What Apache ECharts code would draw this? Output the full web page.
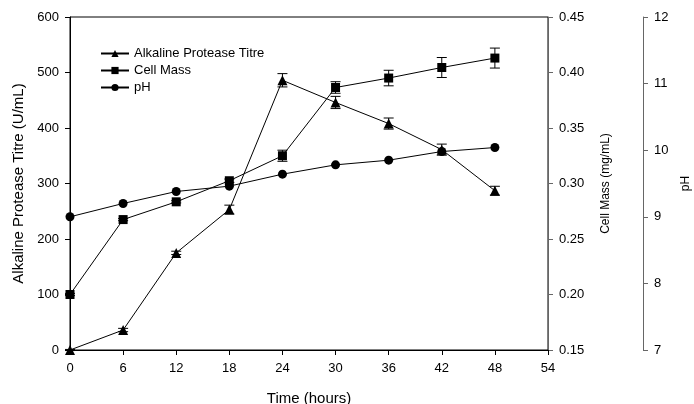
<!DOCTYPE html>
<html><head><meta charset="utf-8">
<script src="https://cdn.jsdelivr.net/npm/echarts@6/dist/echarts.min.js"></script>
<style>html,body{margin:0;padding:0;background:#fff}#c{width:694px;height:404px}</style>
</head><body><div id="c"></div>
<script>
const hours = [0, 6, 12, 18, 24, 30, 36, 42, 48];
const protease = [0, 36, 175, 253, 486, 446, 408, 361, 287];
const proteaseErr = [1, 3, 3, 8, 12, 11, 10, 10, 8];
const cellMass = [0.200, 0.2675, 0.2835, 0.3025, 0.325, 0.3865, 0.395, 0.4045, 0.413];
const cellMassErr = [0.001, 0.001, 0.001, 0.0015, 0.005, 0.0052, 0.007, 0.009, 0.009];
const pH = [9.0, 9.2, 9.38, 9.46, 9.64, 9.78, 9.85, 9.98, 10.04];
const xTicks = [0, 54, 6];

const font = 'Liberation Sans, Arial, sans-serif';
const chart = echarts.init(document.getElementById('c'));

function errSeries(vals, errs, yIdx) {
  return {
    type: 'custom', yAxisIndex: yIdx, z: 3, silent: true,
    data: hours.map((h, i) => [h, vals[i] - errs[i], vals[i] + errs[i]]),
    renderItem: function (params, api) {
      const x = api.value(0);
      const lo = api.coord([x, api.value(1)]);
      const hi = api.coord([x, api.value(2)]);
      const w = 5;
      const st = { stroke: '#000', lineWidth: 1 };
      return { type: 'group', children: [
        { type: 'line', shape: { x1: lo[0], y1: lo[1], x2: hi[0], y2: hi[1] }, style: st },
        { type: 'line', shape: { x1: lo[0] - w, y1: lo[1], x2: lo[0] + w, y2: lo[1] }, style: st },
        { type: 'line', shape: { x1: hi[0] - w, y1: hi[1], x2: hi[0] + w, y2: hi[1] }, style: st }
      ]};
    }
  };
}

const lineStyle = { color: '#000', width: 1 };
const axisLabel = { color: '#000', fontSize: 13, fontFamily: font };

chart.setOption({
  animation: false,
  grid: { left: 70, right: 146, top: 17, bottom: 54, show: true, borderColor: '#000', borderWidth: 1,
          outerBoundsMode: 'none', containLabel: false },
  legend: {
    data: ['Alkaline Protease Titre', 'Cell Mass', 'pH'],
    orient: 'vertical', left: 95, top: 42, itemWidth: 28, itemHeight: 9, itemGap: 4,
    textStyle: { fontSize: 13, fontFamily: font, color: '#000' }
  },
  xAxis: {
    type: 'value', min: xTicks[0], max: xTicks[1], interval: xTicks[2],
    name: 'Time (hours)', nameLocation: 'middle', nameGap: 41,
    nameTextStyle: { fontSize: 15, fontFamily: font, color: '#000' },
    axisLine: { lineStyle: { color: '#000' } },
    axisTick: { inside: false, length: 5, lineStyle: { color: '#000' } },
    axisLabel: Object.assign({ margin: 12 }, axisLabel),
    splitLine: { show: false }
  },
  yAxis: [
    { type: 'value', min: 0, max: 600, interval: 100, position: 'left',
      name: 'Alkaline Protease Titre (U/mL)', nameLocation: 'middle', nameGap: 44, nameRotate: 90,
      nameTextStyle: { fontSize: 15, fontFamily: font, color: '#000' },
      axisLine: { show: true, lineStyle: { color: '#000' } },
      axisTick: { show: true, length: 5, lineStyle: { color: '#000' } },
      axisLabel: Object.assign({ margin: 11 }, axisLabel), splitLine: { show: false } },
    { type: 'value', min: 0.15, max: 0.45, interval: 0.05, position: 'right',
      name: 'Cell Mass (mg/mL)', nameLocation: 'middle', nameGap: 52, nameRotate: 90,
      nameTextStyle: { fontSize: 12, fontFamily: font, color: '#000' },
      axisLine: { show: true, lineStyle: { color: '#666' } },
      axisTick: { show: true, length: 5, lineStyle: { color: '#666' } },
      axisLabel: Object.assign({ margin: 11, formatter: v => v.toFixed(2) }, axisLabel), splitLine: { show: false } },
    { type: 'value', min: 7, max: 12, interval: 1, position: 'right', offset: 95,
      name: 'pH', nameLocation: 'middle', nameGap: 36, nameRotate: 90,
      nameTextStyle: { fontSize: 12, fontFamily: font, color: '#000' },
      axisLine: { show: true, lineStyle: { color: '#666' } },
      axisTick: { show: true, length: 5, lineStyle: { color: '#666' } },
      axisLabel: Object.assign({ margin: 11 }, axisLabel), splitLine: { show: false } }
  ],
  series: [
    errSeries(protease, proteaseErr, 0),
    errSeries(cellMass, cellMassErr, 1),
    { name: 'Alkaline Protease Titre', type: 'line', yAxisIndex: 0, z: 4,
      data: hours.map((h, i) => [h, protease[i]]),
      symbol: 'triangle', symbolSize: 10, lineStyle: lineStyle, itemStyle: { color: '#000' } },
    { name: 'Cell Mass', type: 'line', yAxisIndex: 1, z: 4,
      data: hours.map((h, i) => [h, cellMass[i]]),
      symbol: 'rect', symbolSize: 9, lineStyle: lineStyle, itemStyle: { color: '#000' } },
    { name: 'pH', type: 'line', yAxisIndex: 2, z: 4,
      data: hours.map((h, i) => [h, pH[i]]),
      symbol: 'circle', symbolSize: 9, lineStyle: lineStyle, itemStyle: { color: '#000' } }
  ]
});
</script></body></html>
